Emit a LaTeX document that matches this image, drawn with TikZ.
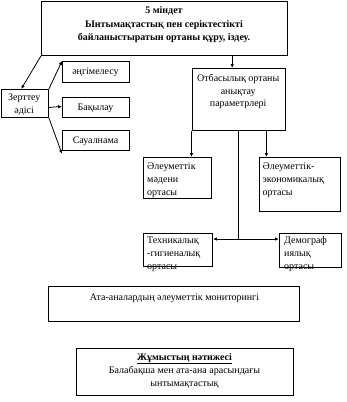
\documentclass[tikz,border=0pt]{standalone}
\usepackage{fontspec}
\setmainfont{Liberation Serif}
\usetikzlibrary{arrows.meta,calc}
\begin{document}
\begin{tikzpicture}[x=1pt,y=-1pt,
  boxstyle/.style={draw,line width=0.9pt,inner sep=0pt,anchor=north west},
  txt/.style={inner sep=0pt,font=\fontsize{10}{13}\selectfont},
  conn/.style={line width=0.8pt},
  arr/.style={conn,-{Latex[length=4pt,width=3.5pt]}}]
\useasboundingbox (0,0) rectangle (347,402);
% boxes
\node[boxstyle,minimum width=246pt,minimum height=54.5pt] (top) at (41,0.5) {};
\node[boxstyle,minimum width=47.5pt,minimum height=28pt] (zert) at (0.5,89) {};
\node[boxstyle,minimum width=67pt,minimum height=21pt] (angim) at (62,61) {};
\node[boxstyle,minimum width=67pt,minimum height=20pt] (bak) at (62,97) {};
\node[boxstyle,minimum width=67pt,minimum height=20pt] (saual) at (62,130) {};
\node[boxstyle,minimum width=93.5pt,minimum height=62pt] (otb) at (191.5,68) {};
\node[boxstyle,minimum width=68pt,minimum height=41pt] (madeni) at (143,157) {};
\node[boxstyle,minimum width=81pt,minimum height=54pt] (ekon) at (259,157) {};
\node[boxstyle,minimum width=69pt,minimum height=33pt] (tekh) at (143,233) {};
\node[boxstyle,minimum width=62pt,minimum height=34pt] (demo) at (279,233) {};
\node[boxstyle,minimum width=251pt,minimum height=35pt] (ata) at (48,286) {};
\node[boxstyle,minimum width=217.5pt,minimum height=47pt] (zhum) at (75.5,348) {};
% texts (anchor base = baseline of the last line)
\node[txt,font=\fontsize{10}{13.5}\selectfont\bfseries,align=center,anchor=base] (topt) at (164,40.5)
  {5 міндет\\Ынтымақтастық пен серіктестікті\\байланыстыратын ортаны құру, іздеу.};
\node[txt,align=center,anchor=base] (zertt) at (24.2,113.5) {Зерттеу\\әдісі};
\node[txt,anchor=base] (angimt) at (95.5,74.5) {әңгімелесу};
\node[txt,anchor=base] (bakt) at (95.5,110.5) {Бақылау};
\node[txt,anchor=base] (saualt) at (95.5,143.5) {Сауалнама};
\node[txt,font=\fontsize{10}{12.5}\selectfont,align=center,anchor=base] (otbt) at (238.2,106.5)
  {Отбасылық ортаны\\анықтау\\параметрлері};
\node[txt,align=left,anchor=base west] (madenit) at (147,195.5) {Әлеуметтік\\мәдени\\ортасы};
\node[txt,align=left,anchor=base west] (ekont) at (262.5,195.5) {Әлеуметтік-\\экономикалық\\ортасы};
\node[txt,align=left,anchor=base west] (tekht) at (147,269) {Техникалық\\-гигиеналық\\ортасы};
\node[txt,align=left,anchor=base west] (demot) at (284,269) {Демограф\\иялық\\ортасы};
\node[txt,anchor=base] (atat) at (174.5,300) {Ата-аналардың әлеуметтік мониторингі};
\node[txt,align=center,anchor=base,font=\fontsize{10}{13.2}\selectfont] (zhumt) at (184.5,386.4)
  {\underline{\textbf{Жұмыстың нәтижесі}}\\Балабақша мен ата-ана арасындағы\\ынтымақтастық};
% connectors
\draw[arr] (top.south west) -- ([xshift=-3.5pt]zert.north);
\draw[arr] (zert.north east) -- (angim.north west);
\draw[arr] (bak.west -| zert.east) -- ([yshift=1pt]bak.west);
\draw[arr] (zert.south east) -- ([yshift=-3pt]saual.south west);
\draw[arr] ([xshift=-6.5pt]otb.north |- top.south) -- ([xshift=-6.5pt]otb.north);
\draw[arr] (otb.south west) -- (otb.south west |- madeni.north);
\draw[arr] ([xshift=-19.5pt]otb.south east) -- ([xshift=-19.5pt]otb.south east |- ekon.north);
\coordinate (junc) at (otb.south |- 0,239);
\draw[conn] (otb.south) -- (junc);
\draw[arr] (junc) -- (junc -| tekh.east);
\draw[arr] (junc) -- (junc -| demo.west);
\end{tikzpicture}
\end{document}
